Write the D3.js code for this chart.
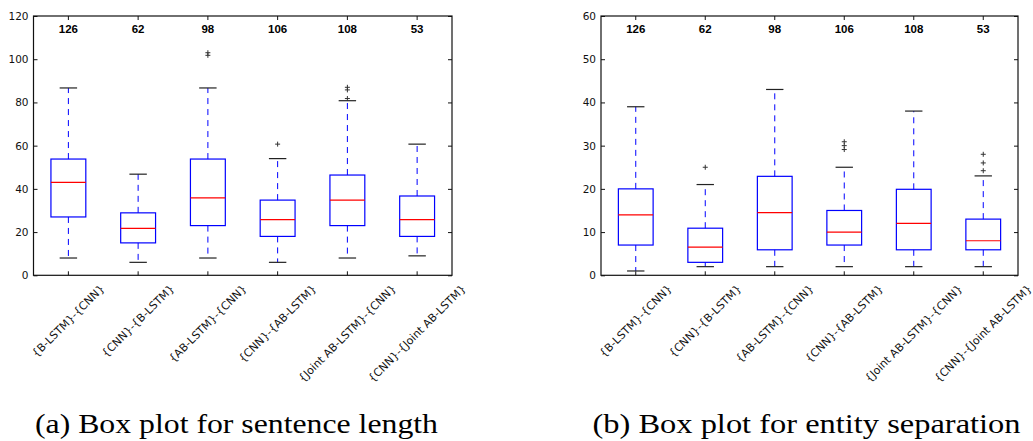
<!DOCTYPE html>
<html>
<head>
<meta charset="utf-8">
<script src="https://cdn.jsdelivr.net/npm/d3@7"></script>
<style>
  html, body { margin: 0; padding: 0; background: #fff; }
  svg { display: block; }
</style>
</head>
<body>
<svg id="chart" width="1033" height="441"></svg>
<script>
// ==========================================================================
// DATA
// ==========================================================================

const categories = [
    '{B-LSTM}-{CNN}', '{CNN}-{B-LSTM}', '{AB-LSTM}-{CNN}',
    '{CNN}-{AB-LSTM}', '{Joint AB-LSTM}-{CNN}', '{CNN}-{Joint AB-LSTM}'
];
const sampleCounts = [126, 62, 98, 106, 108, 53];

// (a) sentence length
const lengthLow = [8, 6, 8, 6, 8, 9];
const lengthQ1 = [27, 15, 23, 18, 23, 18];
const lengthMedian = [43, 21.7, 35.8, 25.8, 34.8, 25.8];
const lengthQ3 = [53.8, 28.9, 53.8, 34.8, 46.4, 36.7];
const lengthHigh = [86.7, 46.8, 86.7, 54, 80.8, 60.7];
const lengthOutliers = [[], [], [101.8, 103], [60.7], [81.8, 85.8, 87], []];
const lengthTicks = [0, 20, 40, 60, 80, 100, 120];

// (b) entity separation
const sepLow = [1, 2, 2, 2, 2, 2];
const sepQ1 = [7, 3, 5.9, 7, 5.9, 5.9];
const sepMedian = [14, 6.5, 14.5, 10, 12, 8];
const sepQ3 = [20, 10.9, 22.9, 15, 19.9, 13];
const sepHigh = [39, 21, 43, 25, 38, 23];
const sepOutliers = [[], [25], [], [29.1, 30, 30.9], [], [24.2, 26, 28]];
const sepTicks = [0, 10, 20, 30, 40, 50, 60];

const captions = ['(a) Box plot for sentence length', '(b) Box plot for entity separation'];

// ==========================================================================
// LAYOUT
// ==========================================================================

const PANELS = [
    { x0: 33.5, x1: 452, y0: 16, y1: 275.3, yMax: 120, countAt: 112,
      low: lengthLow, q1: lengthQ1, med: lengthMedian, q3: lengthQ3, high: lengthHigh,
      outliers: lengthOutliers, ticks: lengthTicks,
      caption: captions[0], capX: 236.5, capW: 403 },
    { x0: 601, x1: 1018, y0: 16, y1: 275.3, yMax: 60, countAt: 56,
      low: sepLow, q1: sepQ1, med: sepMedian, q3: sepQ3, high: sepHigh,
      outliers: sepOutliers, ticks: sepTicks,
      caption: captions[1], capX: 806.5, capW: 428 }
];

const BLUE = '#0000ff';
const RED = '#ff0000';
const INK = '#111';

const svg = d3.select('#chart');
svg.append('rect').attr('width', 1033).attr('height', 441).attr('fill', '#fff');

function drawPanel(p) {
    const g = svg.append('g');

    const x = d3.scaleBand().domain(categories).range([p.x0, p.x1]).padding(0);
    const y = d3.scaleLinear().domain([0, p.yMax]).range([p.y1, p.y0]);
    const bw = x.bandwidth();
    const cx = c => x(c) + bw / 2;

    // axes, ticks pointing inwards on all four sides
    const left = g.append('g').attr('transform', `translate(${p.x0},0)`)
        .call(d3.axisLeft(y).tickValues(p.ticks).tickSize(-4).tickPadding(5));
    g.append('g').attr('transform', `translate(${p.x1},0)`)
        .call(d3.axisRight(y).tickValues(p.ticks).tickSize(-4).tickFormat(''));
    g.append('g').attr('transform', `translate(0,${p.y1})`)
        .call(d3.axisBottom(x).tickSize(-4).tickFormat(''));
    g.append('g').attr('transform', `translate(0,${p.y0})`)
        .call(d3.axisTop(x).tickSize(-4).tickFormat(''));

    g.selectAll('.domain').remove();
    g.selectAll('.tick line').attr('stroke', INK).attr('stroke-width', 1);
    left.selectAll('text')
        .attr('fill', INK)
        .style('font-family', "'DejaVu Sans', sans-serif")
        .style('font-size', '10.5px');

    // frame
    g.append('rect')
        .attr('x', p.x0).attr('y', p.y0)
        .attr('width', p.x1 - p.x0).attr('height', p.y1 - p.y0)
        .attr('fill', 'none').attr('stroke', INK).attr('stroke-width', 1.2);

    // boxes
    const rows = categories.map((c, i) => ({
        c, low: p.low[i], q1: p.q1[i], med: p.med[i], q3: p.q3[i], high: p.high[i],
        out: p.outliers[i], n: sampleCounts[i]
    }));

    const box = g.selectAll('.box').data(rows).enter().append('g').attr('class', 'box');

    // whiskers (dashed, starting at the box edge)
    box.append('line')
        .attr('x1', d => cx(d.c)).attr('x2', d => cx(d.c))
        .attr('y1', d => y(d.q1)).attr('y2', d => y(d.low))
        .attr('stroke', BLUE).attr('stroke-dasharray', '6,5');
    box.append('line')
        .attr('x1', d => cx(d.c)).attr('x2', d => cx(d.c))
        .attr('y1', d => y(d.q3)).attr('y2', d => y(d.high))
        .attr('stroke', BLUE).attr('stroke-dasharray', '6,5');

    // caps
    ['low', 'high'].forEach(k => {
        box.append('line')
            .attr('x1', d => cx(d.c) - bw / 8).attr('x2', d => cx(d.c) + bw / 8)
            .attr('y1', d => y(d[k])).attr('y2', d => y(d[k]))
            .attr('stroke', '#222').attr('stroke-width', 1.2);
    });

    box.append('rect')
        .attr('x', d => cx(d.c) - bw / 4).attr('width', bw / 2)
        .attr('y', d => y(d.q3)).attr('height', d => y(d.q1) - y(d.q3))
        .attr('fill', 'none').attr('stroke', BLUE).attr('stroke-width', 1.2);

    box.append('line')
        .attr('x1', d => cx(d.c) - bw / 4).attr('x2', d => cx(d.c) + bw / 4)
        .attr('y1', d => y(d.med)).attr('y2', d => y(d.med))
        .attr('stroke', RED).attr('stroke-width', 1.2);

    // outliers as '+'
    box.each(function (d) {
        d3.select(this).selectAll('.flier').data(d.out).enter().append('path')
            .attr('class', 'flier')
            .attr('d', v => `M${cx(d.c) - 2.5},${y(v)}h5M${cx(d.c)},${y(v) - 2.5}v5`)
            .attr('stroke', '#333').attr('stroke-width', 1);
    });

    // sample counts
    box.append('text')
        .attr('x', d => cx(d.c)).attr('y', y(p.countAt))
        .attr('text-anchor', 'middle')
        .style('font-family', "'Liberation Sans', Arial, sans-serif")
        .style('font-weight', 'bold')
        .style('font-size', '11.5px')
        .attr('fill', '#000')
        .text(d => d.n);

    // rotated category labels, bbox centred under the tick
    const fs = 11;
    box.append('text')
        .style('font-family', "'DejaVu Sans', sans-serif")
        .style('font-size', fs + 'px')
        .attr('fill', INK)
        .attr('text-anchor', 'middle')
        .attr('dominant-baseline', 'central')
        .text(d => d.c)
        .each(function (d) {
            const w = this.getComputedTextLength();
            const half = (w + fs * 1.15) / (2 * Math.SQRT2);
            const ty = p.y1 + 7 + half;
            d3.select(this).attr('transform', `translate(${cx(d.c)},${ty}) rotate(-45)`);
        });

    // caption
    svg.append('text')
        .attr('x', p.capX).attr('y', 433)
        .attr('text-anchor', 'middle')
        .attr('textLength', p.capW)
        .attr('lengthAdjust', 'spacingAndGlyphs')
        .style('font-family', "'Liberation Serif', 'Times New Roman', serif")
        .style('font-size', '28px')
        .attr('fill', '#000')
        .text(p.caption);
}

PANELS.forEach(drawPanel);
</script>
</body>
</html>
